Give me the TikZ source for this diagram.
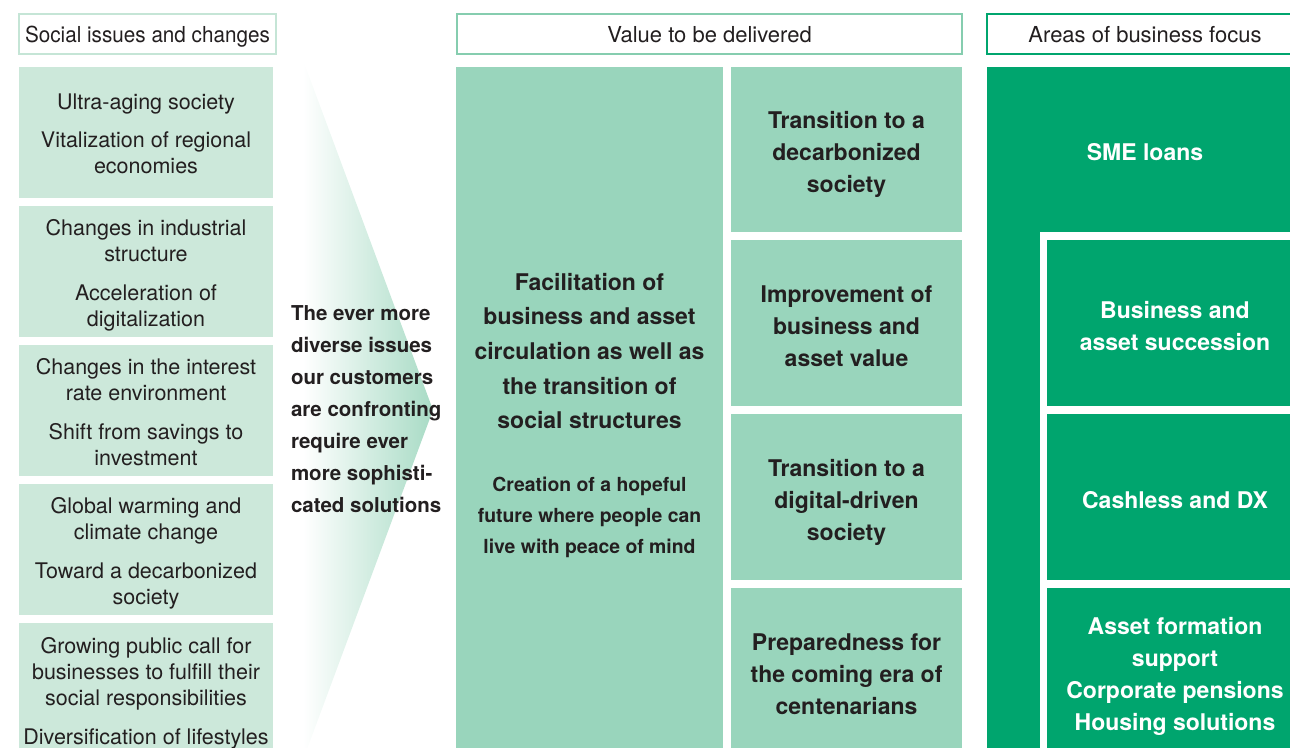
\documentclass[tikz,border=0pt]{standalone}
\usepackage{fontspec}
\usepackage{graphicx}
\setmainfont{TeX Gyre Heros}
\definecolor{inktext}{HTML}{231F20}
\definecolor{mintpale}{HTML}{CCE8DA}
\definecolor{mintmid}{HTML}{99D5BC}
\definecolor{mintarrow}{HTML}{A8DBC5}
\definecolor{greendeep}{HTML}{00A56E}
\definecolor{mintline}{HTML}{C5E5D6}
\definecolor{midline}{HTML}{86CDAF}
\begin{document}
\begin{tikzpicture}[x=1pt,y=-1pt,
  every node/.style={inner sep=0pt, outer sep=0pt, align=center},
  headbox/.style={draw, line width=2.5pt, fill=white, anchor=north west,
    minimum height=40pt, text height=16pt, text depth=0pt, text=inktext,
    font=\fontsize{22}{26}\selectfont},
  issuebox/.style={fill=mintpale, anchor=north west, minimum width=254pt, minimum height=131pt},
  issuetext/.style={text=inktext, font=\fontsize{21.5}{26}\selectfont},
  valuebox/.style={fill=mintmid, anchor=north west, minimum width=231pt, minimum height=166pt},
  valuetext/.style={text=inktext, font=\bfseries\fontsize{23}{32}\selectfont},
  focusbox/.style={fill=greendeep, anchor=north west, minimum width=256pt, minimum height=166pt},
  focustext/.style={text=white, font=\bfseries\fontsize{23}{32}\selectfont}
]
\useasboundingbox (0,0) rectangle (1290,747);
\clip (0,0) rectangle (1290,747);

% column headings
\node[headbox, draw=mintline, minimum width=257pt] (hsocial) at (19,14) {\scalebox{0.94}[1]{Social issues and changes}};
\node[headbox, draw=midline, minimum width=505pt] (hvalue) at (457,14) {Value to be delivered};
\node[headbox, draw=greendeep, minimum width=316pt] (hfocus) at (987,14) {Areas of business focus};

% social issues column
\node[issuebox] (iss1) at (19,67) {};
\node[issuetext] (iss1t) at ([yshift=-1pt]iss1.center) {Ultra-aging society\\[12pt]Vitalization of regional\\economies};
\node[issuebox] (iss2) at (19,206) {};
\node[issuetext] (iss2t) at ([yshift=-4pt]iss2.center) {Changes in industrial\\structure\\[13pt]Acceleration of\\digitalization};
\node[issuebox] (iss3) at (19,345) {};
\node[issuetext] (iss3t) at ([yshift=-2pt]iss3.center) {Changes in the interest\\rate environment\\[13pt]Shift from savings to\\investment};
\node[issuebox] (iss4) at (19,484) {};
\node[issuetext] (iss4t) at ([yshift=-4pt]iss4.center) {Global warming and\\climate change\\[13pt]Toward a decarbonized\\society};
\node[issuebox, minimum height=135pt] (iss5) at (19,623) {};
\node[issuetext] (iss5t) at ([yshift=-2.5pt]iss5.center) {Growing public call for\\businesses to fulfill their\\social responsibilities\\[13pt]Diversification of lifestyles};

% shaded arrow leading to the value column
\shade[left color=white, right color=mintarrow] (303,60) -- (433,410) -- (303,760) -- cycle;
\node[anchor=west, align=left, text=inktext, font=\bfseries\fontsize{20.5}{32}\selectfont] (needs) at (291,409)
  {The ever more\\diverse issues\\our customers\\are confronting\\require ever\\more sophisti-\\cated solutions};

% central value
\node[fill=mintmid, anchor=north west, minimum width=267pt, minimum height=693pt] (core) at (456,67) {};
\node[text=inktext, font=\bfseries\fontsize{23}{34.7}\selectfont] (coretitle) at (589.5,351)
  {Facilitation of\\business and asset\\circulation as well as\\the transition of\\social structures};
\node[text=inktext, font=\bfseries\fontsize{19.4}{31}\selectfont] (coresub) at (589.5,517)
  {Creation of a hopeful\\future where people can\\live with peace of mind};

% values to be delivered
\node[valuebox, minimum height=165pt] (val1) at (731,67) {};
\node[valuetext] (val1t) at ([yshift=-5pt]val1.center) {Transition to a\\decarbonized\\society};
\node[valuebox] (val2) at (731,240) {};
\node[valuetext] (val2t) at ([yshift=-3pt]val2.center) {Improvement of\\business and\\asset value};
\node[valuebox] (val3) at (731,414) {};
\node[valuetext] (val3t) at ([yshift=-5pt]val3.center) {Transition to a\\digital-driven\\society};
\node[valuebox, minimum height=172pt] (val4) at (731,588) {};
\node[valuetext] (val4t) at (val4.center) {Preparedness for\\the coming era of\\centenarians};

% areas of business focus
\node[focusbox, minimum width=316pt, minimum height=165pt] (sme) at (987,67) {};
\node[focustext] (smet) at ([yshift=-3pt]sme.center) {SME loans};
\fill[greendeep] (987,231) rectangle (1040,760);
\node[focusbox] (succ) at (1047,240) {};
\node[focustext] (succt) at ([yshift=-3pt]succ.center) {Business and\\asset succession};
\node[focusbox] (cash) at (1047,414) {};
\node[focustext] (casht) at ([yshift=-3pt]cash.center) {Cashless and DX};
\node[focusbox, minimum height=172pt] (asset) at (1047,588) {};
\node[focustext] (assett) at ([yshift=-2pt]asset.center) {Asset formation\\support\\Corporate pensions\\Housing solutions};
\end{tikzpicture}
\end{document}
